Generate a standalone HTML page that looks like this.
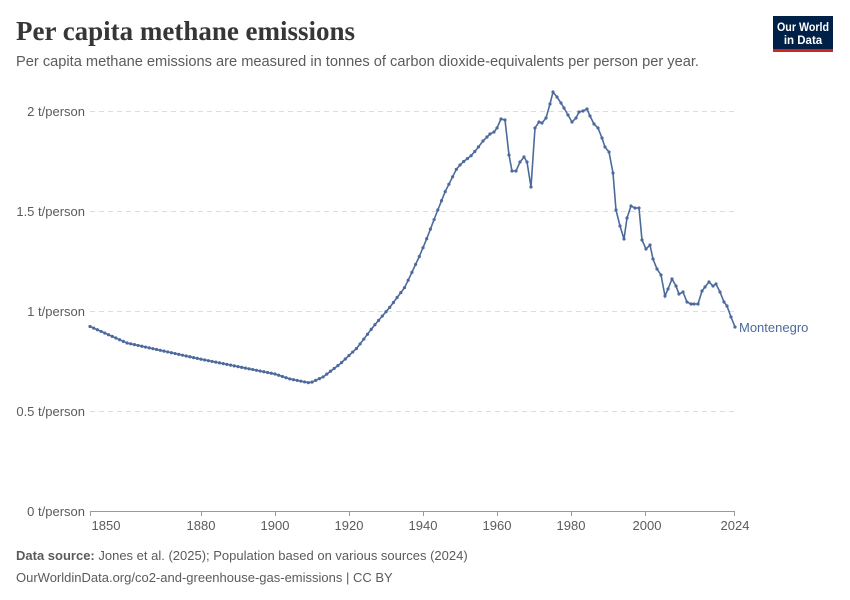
<!DOCTYPE html>
<html><head><meta charset="utf-8"><style>
html,body{margin:0;padding:0;background:#fff;}
svg{display:block;font-family:"Liberation Sans",sans-serif;}
</style></head><body>
<svg id="s" width="850" height="600" viewBox="0 0 850 600" xmlns="http://www.w3.org/2000/svg">
<text x="16" y="40" font-family="Liberation Serif,serif" font-size="27" font-weight="bold" fill="#363636" textLength="339" lengthAdjust="spacingAndGlyphs">Per capita methane emissions</text>
<text x="16" y="66" font-size="15" fill="#5b5b5b" textLength="683" lengthAdjust="spacingAndGlyphs">Per capita methane emissions are measured in tonnes of carbon dioxide-equivalents per person per year.</text>
<rect x="773" y="16" width="60" height="36" fill="#002147"/>
<rect x="773" y="49" width="60" height="3" fill="#ce261e"/>
<text x="803" y="31" font-size="11.5" font-weight="bold" fill="#fff" text-anchor="middle" textLength="52" lengthAdjust="spacingAndGlyphs">Our World</text>
<text x="803" y="44" font-size="11.5" font-weight="bold" fill="#fff" text-anchor="middle">in Data</text>
<g stroke="#ddd" stroke-dasharray="5,4" stroke-width="1">
<line x1="90" x2="735" y1="111.5" y2="111.5"/>
<line x1="90" x2="735" y1="211.5" y2="211.5"/>
<line x1="90" x2="735" y1="311.5" y2="311.5"/>
<line x1="90" x2="735" y1="411.5" y2="411.5"/>
</g>
<g font-size="13" fill="#5b5b5b" text-anchor="end">
<text x="85" y="116">2 t/person</text>
<text x="85" y="216">1.5 t/person</text>
<text x="85" y="316">1 t/person</text>
<text x="85" y="416">0.5 t/person</text>
<text x="85" y="516">0 t/person</text>
</g>
<line x1="90" x2="735" y1="511.5" y2="511.5" stroke="#999"/>
<g stroke="#999">
<line x1="90.5" x2="90.5" y1="511" y2="516"/>
<line x1="201.5" x2="201.5" y1="511" y2="516"/>
<line x1="275.5" x2="275.5" y1="511" y2="516"/>
<line x1="349.5" x2="349.5" y1="511" y2="516"/>
<line x1="423.5" x2="423.5" y1="511" y2="516"/>
<line x1="497.5" x2="497.5" y1="511" y2="516"/>
<line x1="571.5" x2="571.5" y1="511" y2="516"/>
<line x1="645.5" x2="645.5" y1="511" y2="516"/>
<line x1="734.5" x2="734.5" y1="511" y2="516"/>
</g>
<g font-size="13" fill="#5b5b5b" text-anchor="middle">
<text x="106" y="530">1850</text>
<text x="201" y="530">1880</text>
<text x="275" y="530">1900</text>
<text x="349" y="530">1920</text>
<text x="423" y="530">1940</text>
<text x="497" y="530">1960</text>
<text x="571" y="530">1980</text>
<text x="647" y="530">2000</text>
<text x="735" y="530">2024</text>
</g>
<text x="739" y="332" font-size="13" fill="#4c6a9c">Montenegro</text>
<text x="16" y="560" font-size="13" fill="#5b5b5b"><tspan font-weight="bold">Data source:</tspan> Jones et al. (2025); Population based on various sources (2024)</text>
<text x="16" y="582" font-size="13" fill="#5b5b5b">OurWorldinData.org/co2-and-greenhouse-gas-emissions | CC BY</text>
<g id="g"></g>
</svg>
<script>
var smooth=[[89,326],[127,343],[200,359],[275,374],[290,379],[310,383],[323,377],[340,364],[357,348],[373,327],[390,307],[405,287],[413,270],[420,255],[427,238],[437,212],[445,192],[457,168],[463,162],[472,155],[480,145]];
var rough=[[483,141],[487,137],[490,134],[494,132],[497,128],[501,119],[505,120],[509,155],[512,171],[516,171],[520,162],[524,157],[527,162],[531,187],[535,128],[539,122],[542,123],[546,118],[550,104],[553,92],[557,97],[561,103],[564,108],[568,115],[572,122],[576,118],[579,112],[583,111],[587,109],[590,116],[594,124],[598,128],[602,138],[605,147],[609,152],[613,173],[616,210],[620,226],[624,239],[627,218],[631,206],[635,208],[639,208],[642,240],[646,249],[650,245],[653,259],[657,269],[661,275],[665,296],[668,289],[672,279],[676,286],[679,294],[683,292],[687,302],[691,304],[694,304],[698,304],[702,291],[705,287],[709,282],[713,286],[716,284],[720,292],[724,302],[727,306],[731,317],[735,327]];
var pts=[];
for(var yr=1850;yr<=1960;yr++){var x=90+(yr-1850)*3.7;
 for(var i=0;i<smooth.length-1;i++){var a=smooth[i],b=smooth[i+1];
  if(x>=a[0]&&x<=b[0]){pts.push([x,a[1]+(b[1]-a[1])*(x-a[0])/(b[0]-a[0])]);break;}}}
pts=pts.concat(rough);
var ns="http://www.w3.org/2000/svg",g=document.getElementById("g");
var p=document.createElementNS(ns,"polyline");
p.setAttribute("points",pts.map(function(q){return q[0].toFixed(1)+","+q[1].toFixed(1)}).join(" "));
p.setAttribute("fill","none");p.setAttribute("stroke","#4c6a9c");p.setAttribute("stroke-width","1.6");
g.appendChild(p);
pts.forEach(function(q){var c=document.createElementNS(ns,"circle");c.setAttribute("cx",q[0]);c.setAttribute("cy",q[1]);c.setAttribute("r","1.6");c.setAttribute("fill","#4c6a9c");g.appendChild(c);});
</script>
</body></html>
